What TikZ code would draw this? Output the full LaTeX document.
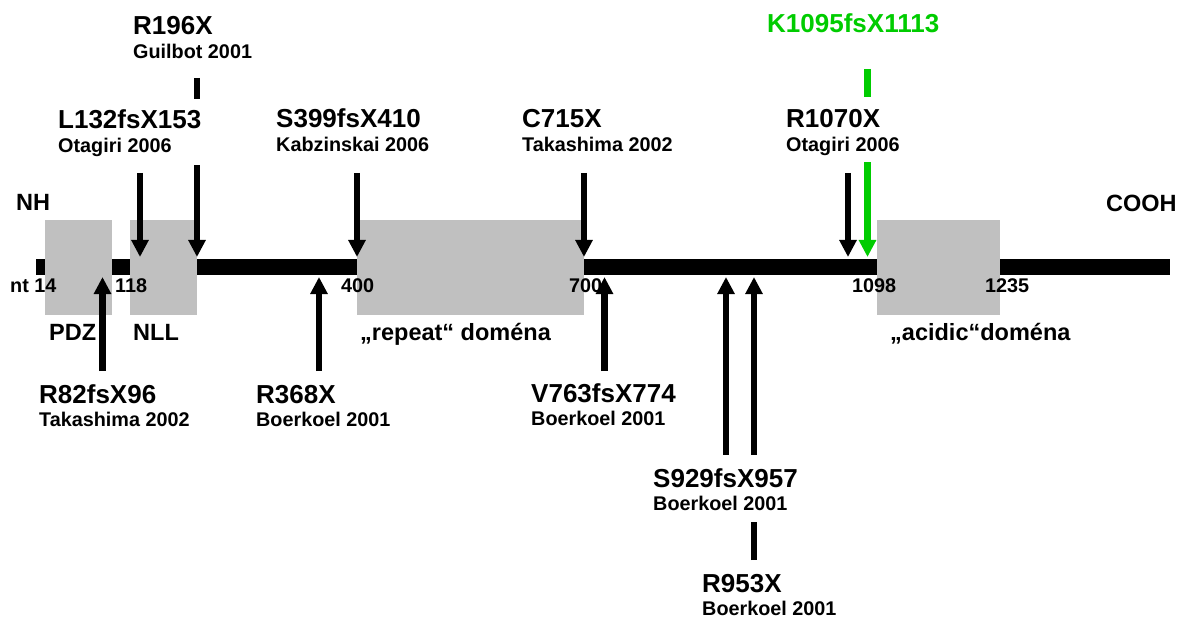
\documentclass[tikz,border=0pt]{standalone}
\usepackage{fontspec}
\setmainfont{Liberation Sans}
\usetikzlibrary{arrows.meta}
\definecolor{domgray}{RGB}{192,192,192}
\definecolor{mutgreen}{RGB}{0,204,0}
\pgfdeclarelayer{bglayer}
\pgfdeclarelayer{arrowlayer}
\pgfsetlayers{bglayer,arrowlayer,main}
\newcommand\mutlab[2]{\vtop{\baselineskip=23.5pt\lineskiplimit=-100pt
  \hbox{\fontsize{26}{26}\selectfont #1}\hbox{\fontsize{19.8}{20}\selectfont #2}}}
\tikzset{
  lab/.style={anchor=base west, inner sep=0pt, fill=white, font=\bfseries},
  biglab/.style={anchor=base west, inner sep=0pt, font=\bfseries\fontsize{26}{26}\selectfont},
  numlab/.style={anchor=base west, inner sep=0pt, font=\bfseries\fontsize{19.8}{20}\selectfont},
  domlab/.style={anchor=base west, inner sep=0pt, font=\bfseries\fontsize{23.5}{24}\selectfont},
  mutarrow/.style={line width=6.5pt, -{Triangle[width=16.5pt,length=17pt]}},
  dombox/.style={fill=domgray, draw=none},
}
\begin{document}
\begin{tikzpicture}[x=1pt,y=-1pt]
\useasboundingbox (0,0) rectangle (1185,620);

% protein bar and domains
\begin{pgfonlayer}{bglayer}
  \fill[black] (36,259) rectangle (1170,275);
  \node[dombox, minimum width=67pt, minimum height=95pt, inner sep=0pt] (pdz) at (78.5,267.5) {};
  \node[dombox, minimum width=67pt, minimum height=95pt, inner sep=0pt] (nll) at (163.5,267.5) {};
  \node[dombox, minimum width=227pt, minimum height=95pt, inner sep=0pt] (rep) at (470.5,267.5) {};
  \node[dombox, minimum width=123pt, minimum height=95pt, inner sep=0pt] (acid) at (938.5,267.5) {};
\end{pgfonlayer}

% end labels and positions
\node[domlab] (nh) at (16,211) {NH};
\node[domlab] (cooh) at (1106,212) {COOH};
\node[numlab] (n14) at (10,292) {nt 14};
\node[numlab] (n118) at (115,292) {118};
\node[numlab] (n400) at (341,292) {400};
\node[numlab] (n700) at (569,292) {700};
\node[numlab] (n1098) at (852,292) {1098};
\node[numlab] (n1235) at (985,292) {1235};

% domain names
\node[domlab] (tpdz) at (49,340) {PDZ};
\node[domlab] (tnll) at (133,340) {NLL};
\node[domlab] (trep) at (360,340) {„repeat“ doména};
\node[domlab] (tacid) at (890,340) {„acidic“doména};

% mutation labels above
\node[lab] (r196) at (133,35) {\mutlab{R196X}{Guilbot 2001}};
\node[lab, text height=30pt, text depth=36pt] (l132) at (58,129) {\mutlab{L132fsX153}{Otagiri 2006}};
\node[lab] (s399) at (276,128) {\mutlab{S399fsX410}{Kabzinskai 2006}};
\node[lab] (c715) at (522,128) {\mutlab{C715X}{Takashima 2002}};
\node[lab, text height=31pt, text depth=34pt] (r1070) at (786,128) {\mutlab{R1070X}{Otagiri 2006}};
\node[biglab, text=mutgreen] (k1095) at (767,33) {K1095fsX1113};

% mutation labels below
\node[lab] (r82) at (39,403) {\mutlab{R82fsX96}{Takashima 2002}};
\node[lab] (r368) at (256,403) {\mutlab{R368X}{Boerkoel 2001}};
\node[lab] (v763) at (531,402) {\mutlab{V763fsX774}{Boerkoel 2001}};
\node[lab, text height=32pt, text depth=35pt] (s929) at (653,487) {\mutlab{S929fsX957}{Boerkoel 2001}};
\node[lab] (r953) at (702,592) {\mutlab{R953X}{Boerkoel 2001}};

% arrow end points
\coordinate (a196s) at (197,78);    \coordinate (a196e) at (197,257);
\coordinate (a132s) at (140,173);   \coordinate (a132e) at (140,257);
\coordinate (a399s) at (357,173);   \coordinate (a399e) at (357,257);
\coordinate (a715s) at (584,173);   \coordinate (a715e) at (584,257);
\coordinate (a1070s) at (848,173);  \coordinate (a1070e) at (848,257);
\coordinate (a1095s) at (867.5,69); \coordinate (a1095e) at (867.5,257);
\coordinate (a82s) at (102.5,371);  \coordinate (a82e) at (102.5,277);
\coordinate (a368s) at (319,371);   \coordinate (a368e) at (319,277);
\coordinate (a763s) at (604.5,371); \coordinate (a763e) at (604.5,277);
\coordinate (a929s) at (726,455);   \coordinate (a929e) at (726,277);
\coordinate (a953s) at (754,560);   \coordinate (a953e) at (754,277);

\begin{pgfonlayer}{arrowlayer}
  \draw[mutarrow] (a196s) -- (a196e);
  \draw[mutarrow] (a132s) -- (a132e);
  \draw[mutarrow] (a399s) -- (a399e);
  \draw[mutarrow] (a715s) -- (a715e);
  \draw[mutarrow] (a1070s) -- (a1070e);
  \draw[mutarrow, mutgreen] (a1095s) -- (a1095e);
  \draw[mutarrow] (a82s) -- (a82e);
  \draw[mutarrow] (a368s) -- (a368e);
  \draw[mutarrow] (a763s) -- (a763e);
  \draw[mutarrow] (a929s) -- (a929e);
  \draw[mutarrow] (a953s) -- (a953e);
\end{pgfonlayer}
\end{tikzpicture}
\end{document}
